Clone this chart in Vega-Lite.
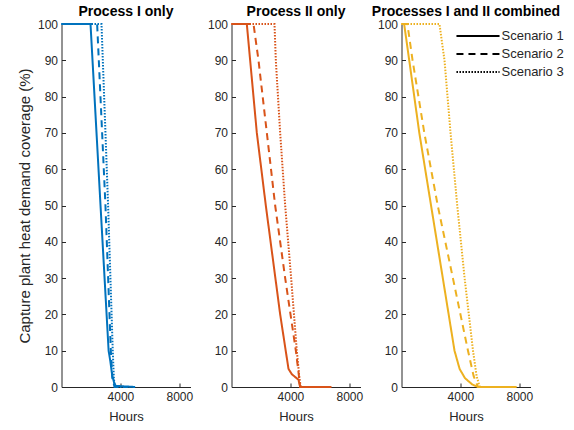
{
  "$schema": "https://vega.github.io/schema/vega-lite/v6.json",
  "padding": {"left": 16.5, "top": 5, "right": 5, "bottom": 5},
  "datasets": {
    "d": [
      {"panel": "p1", "scenario": "Scenario 1", "hours": 0, "coverage": 100},
      {"panel": "p1", "scenario": "Scenario 1", "hours": 1970, "coverage": 100},
      {"panel": "p1", "scenario": "Scenario 1", "hours": 2650, "coverage": 50},
      {"panel": "p1", "scenario": "Scenario 1", "hours": 3200, "coverage": 10},
      {"panel": "p1", "scenario": "Scenario 1", "hours": 3320, "coverage": 7},
      {"panel": "p1", "scenario": "Scenario 1", "hours": 3450, "coverage": 3},
      {"panel": "p1", "scenario": "Scenario 1", "hours": 3600, "coverage": 0.8},
      {"panel": "p1", "scenario": "Scenario 1", "hours": 3700, "coverage": 0.3},
      {"panel": "p1", "scenario": "Scenario 1", "hours": 5000, "coverage": 0},
      {"panel": "p1", "scenario": "Scenario 2", "hours": 0, "coverage": 100},
      {"panel": "p1", "scenario": "Scenario 2", "hours": 2420, "coverage": 100},
      {"panel": "p1", "scenario": "Scenario 2", "hours": 2985, "coverage": 50},
      {"panel": "p1", "scenario": "Scenario 2", "hours": 3350, "coverage": 10},
      {"panel": "p1", "scenario": "Scenario 2", "hours": 3450, "coverage": 2.5},
      {"panel": "p1", "scenario": "Scenario 2", "hours": 3600, "coverage": 0},
      {"panel": "p1", "scenario": "Scenario 2", "hours": 4500, "coverage": 0},
      {"panel": "p1", "scenario": "Scenario 3", "hours": 0, "coverage": 100},
      {"panel": "p1", "scenario": "Scenario 3", "hours": 2716, "coverage": 100},
      {"panel": "p1", "scenario": "Scenario 3", "hours": 3165, "coverage": 50},
      {"panel": "p1", "scenario": "Scenario 3", "hours": 3480, "coverage": 10},
      {"panel": "p1", "scenario": "Scenario 3", "hours": 3560, "coverage": 2},
      {"panel": "p1", "scenario": "Scenario 3", "hours": 3650, "coverage": 0},
      {"panel": "p1", "scenario": "Scenario 3", "hours": 4500, "coverage": 0},
      {"panel": "p2", "scenario": "Scenario 1", "hours": 0, "coverage": 100},
      {"panel": "p2", "scenario": "Scenario 1", "hours": 1040, "coverage": 100},
      {"panel": "p2", "scenario": "Scenario 1", "hours": 1720, "coverage": 70},
      {"panel": "p2", "scenario": "Scenario 1", "hours": 2330, "coverage": 50},
      {"panel": "p2", "scenario": "Scenario 1", "hours": 3305, "coverage": 20},
      {"panel": "p2", "scenario": "Scenario 1", "hours": 3870, "coverage": 5},
      {"panel": "p2", "scenario": "Scenario 1", "hours": 4100, "coverage": 3.5},
      {"panel": "p2", "scenario": "Scenario 1", "hours": 4550, "coverage": 2},
      {"panel": "p2", "scenario": "Scenario 1", "hours": 4660, "coverage": 0},
      {"panel": "p2", "scenario": "Scenario 1", "hours": 6790, "coverage": 0},
      {"panel": "p2", "scenario": "Scenario 2", "hours": 0, "coverage": 100},
      {"panel": "p2", "scenario": "Scenario 2", "hours": 1494, "coverage": 100},
      {"panel": "p2", "scenario": "Scenario 2", "hours": 1833, "coverage": 90},
      {"panel": "p2", "scenario": "Scenario 2", "hours": 2400, "coverage": 70},
      {"panel": "p2", "scenario": "Scenario 2", "hours": 2965, "coverage": 50},
      {"panel": "p2", "scenario": "Scenario 2", "hours": 3645, "coverage": 30},
      {"panel": "p2", "scenario": "Scenario 2", "hours": 4370, "coverage": 10},
      {"panel": "p2", "scenario": "Scenario 2", "hours": 4550, "coverage": 4},
      {"panel": "p2", "scenario": "Scenario 2", "hours": 4660, "coverage": 0},
      {"panel": "p2", "scenario": "Scenario 2", "hours": 5500, "coverage": 0},
      {"panel": "p2", "scenario": "Scenario 3", "hours": 0, "coverage": 100},
      {"panel": "p2", "scenario": "Scenario 3", "hours": 2920, "coverage": 100},
      {"panel": "p2", "scenario": "Scenario 3", "hours": 3010, "coverage": 90},
      {"panel": "p2", "scenario": "Scenario 3", "hours": 3305, "coverage": 70},
      {"panel": "p2", "scenario": "Scenario 3", "hours": 3645, "coverage": 50},
      {"panel": "p2", "scenario": "Scenario 3", "hours": 4050, "coverage": 30},
      {"panel": "p2", "scenario": "Scenario 3", "hours": 4435, "coverage": 10},
      {"panel": "p2", "scenario": "Scenario 3", "hours": 4600, "coverage": 3},
      {"panel": "p2", "scenario": "Scenario 3", "hours": 4700, "coverage": 0},
      {"panel": "p2", "scenario": "Scenario 3", "hours": 5000, "coverage": 0},
      {"panel": "p3", "scenario": "Scenario 1", "hours": 0, "coverage": 100},
      {"panel": "p3", "scenario": "Scenario 1", "hours": 180, "coverage": 100},
      {"panel": "p3", "scenario": "Scenario 1", "hours": 525, "coverage": 90},
      {"panel": "p3", "scenario": "Scenario 1", "hours": 1210, "coverage": 70},
      {"panel": "p3", "scenario": "Scenario 1", "hours": 2007, "coverage": 50},
      {"panel": "p3", "scenario": "Scenario 1", "hours": 2805, "coverage": 30},
      {"panel": "p3", "scenario": "Scenario 1", "hours": 3600, "coverage": 10},
      {"panel": "p3", "scenario": "Scenario 1", "hours": 3945, "coverage": 5},
      {"panel": "p3", "scenario": "Scenario 1", "hours": 4300, "coverage": 2.5},
      {"panel": "p3", "scenario": "Scenario 1", "hours": 4800, "coverage": 0.7},
      {"panel": "p3", "scenario": "Scenario 1", "hours": 5200, "coverage": 0},
      {"panel": "p3", "scenario": "Scenario 1", "hours": 7820, "coverage": 0},
      {"panel": "p3", "scenario": "Scenario 2", "hours": 0, "coverage": 100},
      {"panel": "p3", "scenario": "Scenario 2", "hours": 400, "coverage": 100},
      {"panel": "p3", "scenario": "Scenario 2", "hours": 752, "coverage": 90},
      {"panel": "p3", "scenario": "Scenario 2", "hours": 1550, "coverage": 70},
      {"panel": "p3", "scenario": "Scenario 2", "hours": 2460, "coverage": 50},
      {"panel": "p3", "scenario": "Scenario 2", "hours": 3490, "coverage": 30},
      {"panel": "p3", "scenario": "Scenario 2", "hours": 4515, "coverage": 10},
      {"panel": "p3", "scenario": "Scenario 2", "hours": 4900, "coverage": 3},
      {"panel": "p3", "scenario": "Scenario 2", "hours": 5200, "coverage": 0},
      {"panel": "p3", "scenario": "Scenario 2", "hours": 6000, "coverage": 0},
      {"panel": "p3", "scenario": "Scenario 3", "hours": 0, "coverage": 100},
      {"panel": "p3", "scenario": "Scenario 3", "hours": 2577, "coverage": 100},
      {"panel": "p3", "scenario": "Scenario 3", "hours": 2920, "coverage": 90},
      {"panel": "p3", "scenario": "Scenario 3", "hours": 3330, "coverage": 70},
      {"panel": "p3", "scenario": "Scenario 3", "hours": 3785, "coverage": 50},
      {"panel": "p3", "scenario": "Scenario 3", "hours": 4285, "coverage": 30},
      {"panel": "p3", "scenario": "Scenario 3", "hours": 4856, "coverage": 10},
      {"panel": "p3", "scenario": "Scenario 3", "hours": 5100, "coverage": 3},
      {"panel": "p3", "scenario": "Scenario 3", "hours": 5313, "coverage": 0}
    ]
  },
  "hconcat": [
    {
      "title": "Process I only",
      "width": 129,
      "height": 363,
      "data": {"name": "d"},
      "transform": [{"filter": "datum.panel === 'p1'"}],
      "mark": {"type": "line", "color": "#0072BD", "strokeWidth": 2},
      "encoding": {
        "x": {"field": "hours", "type": "quantitative", "scale": {"domain": [0, 8760], "nice": false}, "axis": {"values": [4000, 8000], "format": "d", "title": "Hours"}},
        "y": {"field": "coverage", "type": "quantitative", "scale": {"domain": [0, 100], "nice": false}, "axis": {"values": [0, 10, 20, 30, 40, 50, 60, 70, 80, 90, 100], "title": "Capture plant heat demand coverage (%)", "titleFontSize": 15, "titlePadding": 5}},
        "strokeDash": {"field": "scenario", "type": "nominal", "scale": {"domain": ["Scenario 1", "Scenario 2", "Scenario 3"], "range": [[1, 0], [7, 5], [1.5, 1.5]]}, "legend": null}
      }
    },
    {
      "title": "Process II only",
      "width": 129,
      "height": 363,
      "data": {"name": "d"},
      "transform": [{"filter": "datum.panel === 'p2'"}],
      "mark": {"type": "line", "color": "#D95319", "strokeWidth": 2},
      "encoding": {
        "x": {"field": "hours", "type": "quantitative", "scale": {"domain": [0, 8760], "nice": false}, "axis": {"values": [4000, 8000], "format": "d", "title": "Hours"}},
        "y": {"field": "coverage", "type": "quantitative", "scale": {"domain": [0, 100], "nice": false}, "axis": {"values": [0, 10, 20, 30, 40, 50, 60, 70, 80, 90, 100], "title": null}},
        "strokeDash": {"field": "scenario", "type": "nominal", "scale": {"domain": ["Scenario 1", "Scenario 2", "Scenario 3"], "range": [[1, 0], [7, 5], [1.5, 1.5]]}, "legend": null}
      }
    },
    {
      "title": "Processes I and II combined",
      "width": 129,
      "height": 363,
      "data": {"name": "d"},
      "transform": [{"filter": "datum.panel === 'p3'"}],
      "mark": {"type": "line", "color": "#EDB120", "strokeWidth": 2},
      "encoding": {
        "x": {"field": "hours", "type": "quantitative", "scale": {"domain": [0, 8760], "nice": false}, "axis": {"values": [4000, 8000], "format": "d", "title": "Hours"}},
        "y": {"field": "coverage", "type": "quantitative", "scale": {"domain": [0, 100], "nice": false}, "axis": {"values": [0, 10, 20, 30, 40, 50, 60, 70, 80, 90, 100], "title": null}},
        "strokeDash": {"field": "scenario", "type": "nominal", "scale": {"domain": ["Scenario 1", "Scenario 2", "Scenario 3"], "range": [[1, 0], [7, 5], [1.5, 1.5]]},
          "legend": {"orient": "none", "legendX": 70, "legendY": 5.5, "title": null, "padding": 0, "symbolType": "M-4,0L4,0", "symbolSize": 116, "symbolStrokeColor": "#000", "symbolFillColor": "transparent", "symbolStrokeWidth": 2, "labelFontSize": 13, "labelColor": "#262626", "labelFont": "Liberation Sans", "labelOffset": 17, "rowPadding": 4}}
      }
    }
  ],
  "spacing": 41,
  "bounds": "flush",
  "resolve": {"scale": {"strokeDash": "independent"}, "legend": {"strokeDash": "independent"}},
  "config": {
    "view": {"stroke": null},
    "font": "Liberation Sans",
    "axis": {"grid": false, "domainColor": "#262626", "tickColor": "#262626", "labelColor": "#262626", "titleColor": "#262626", "labelFont": "Liberation Sans", "titleFont": "Liberation Sans", "labelFontSize": 12, "titleFontSize": 13, "titleFontWeight": "normal", "tickSize": -4, "labelPadding": 8},
    "axisX": {"titlePadding": 8},
    "title": {"font": "Liberation Sans", "fontSize": 14, "fontWeight": "bold", "color": "#000", "offset": -1}
  }
}
